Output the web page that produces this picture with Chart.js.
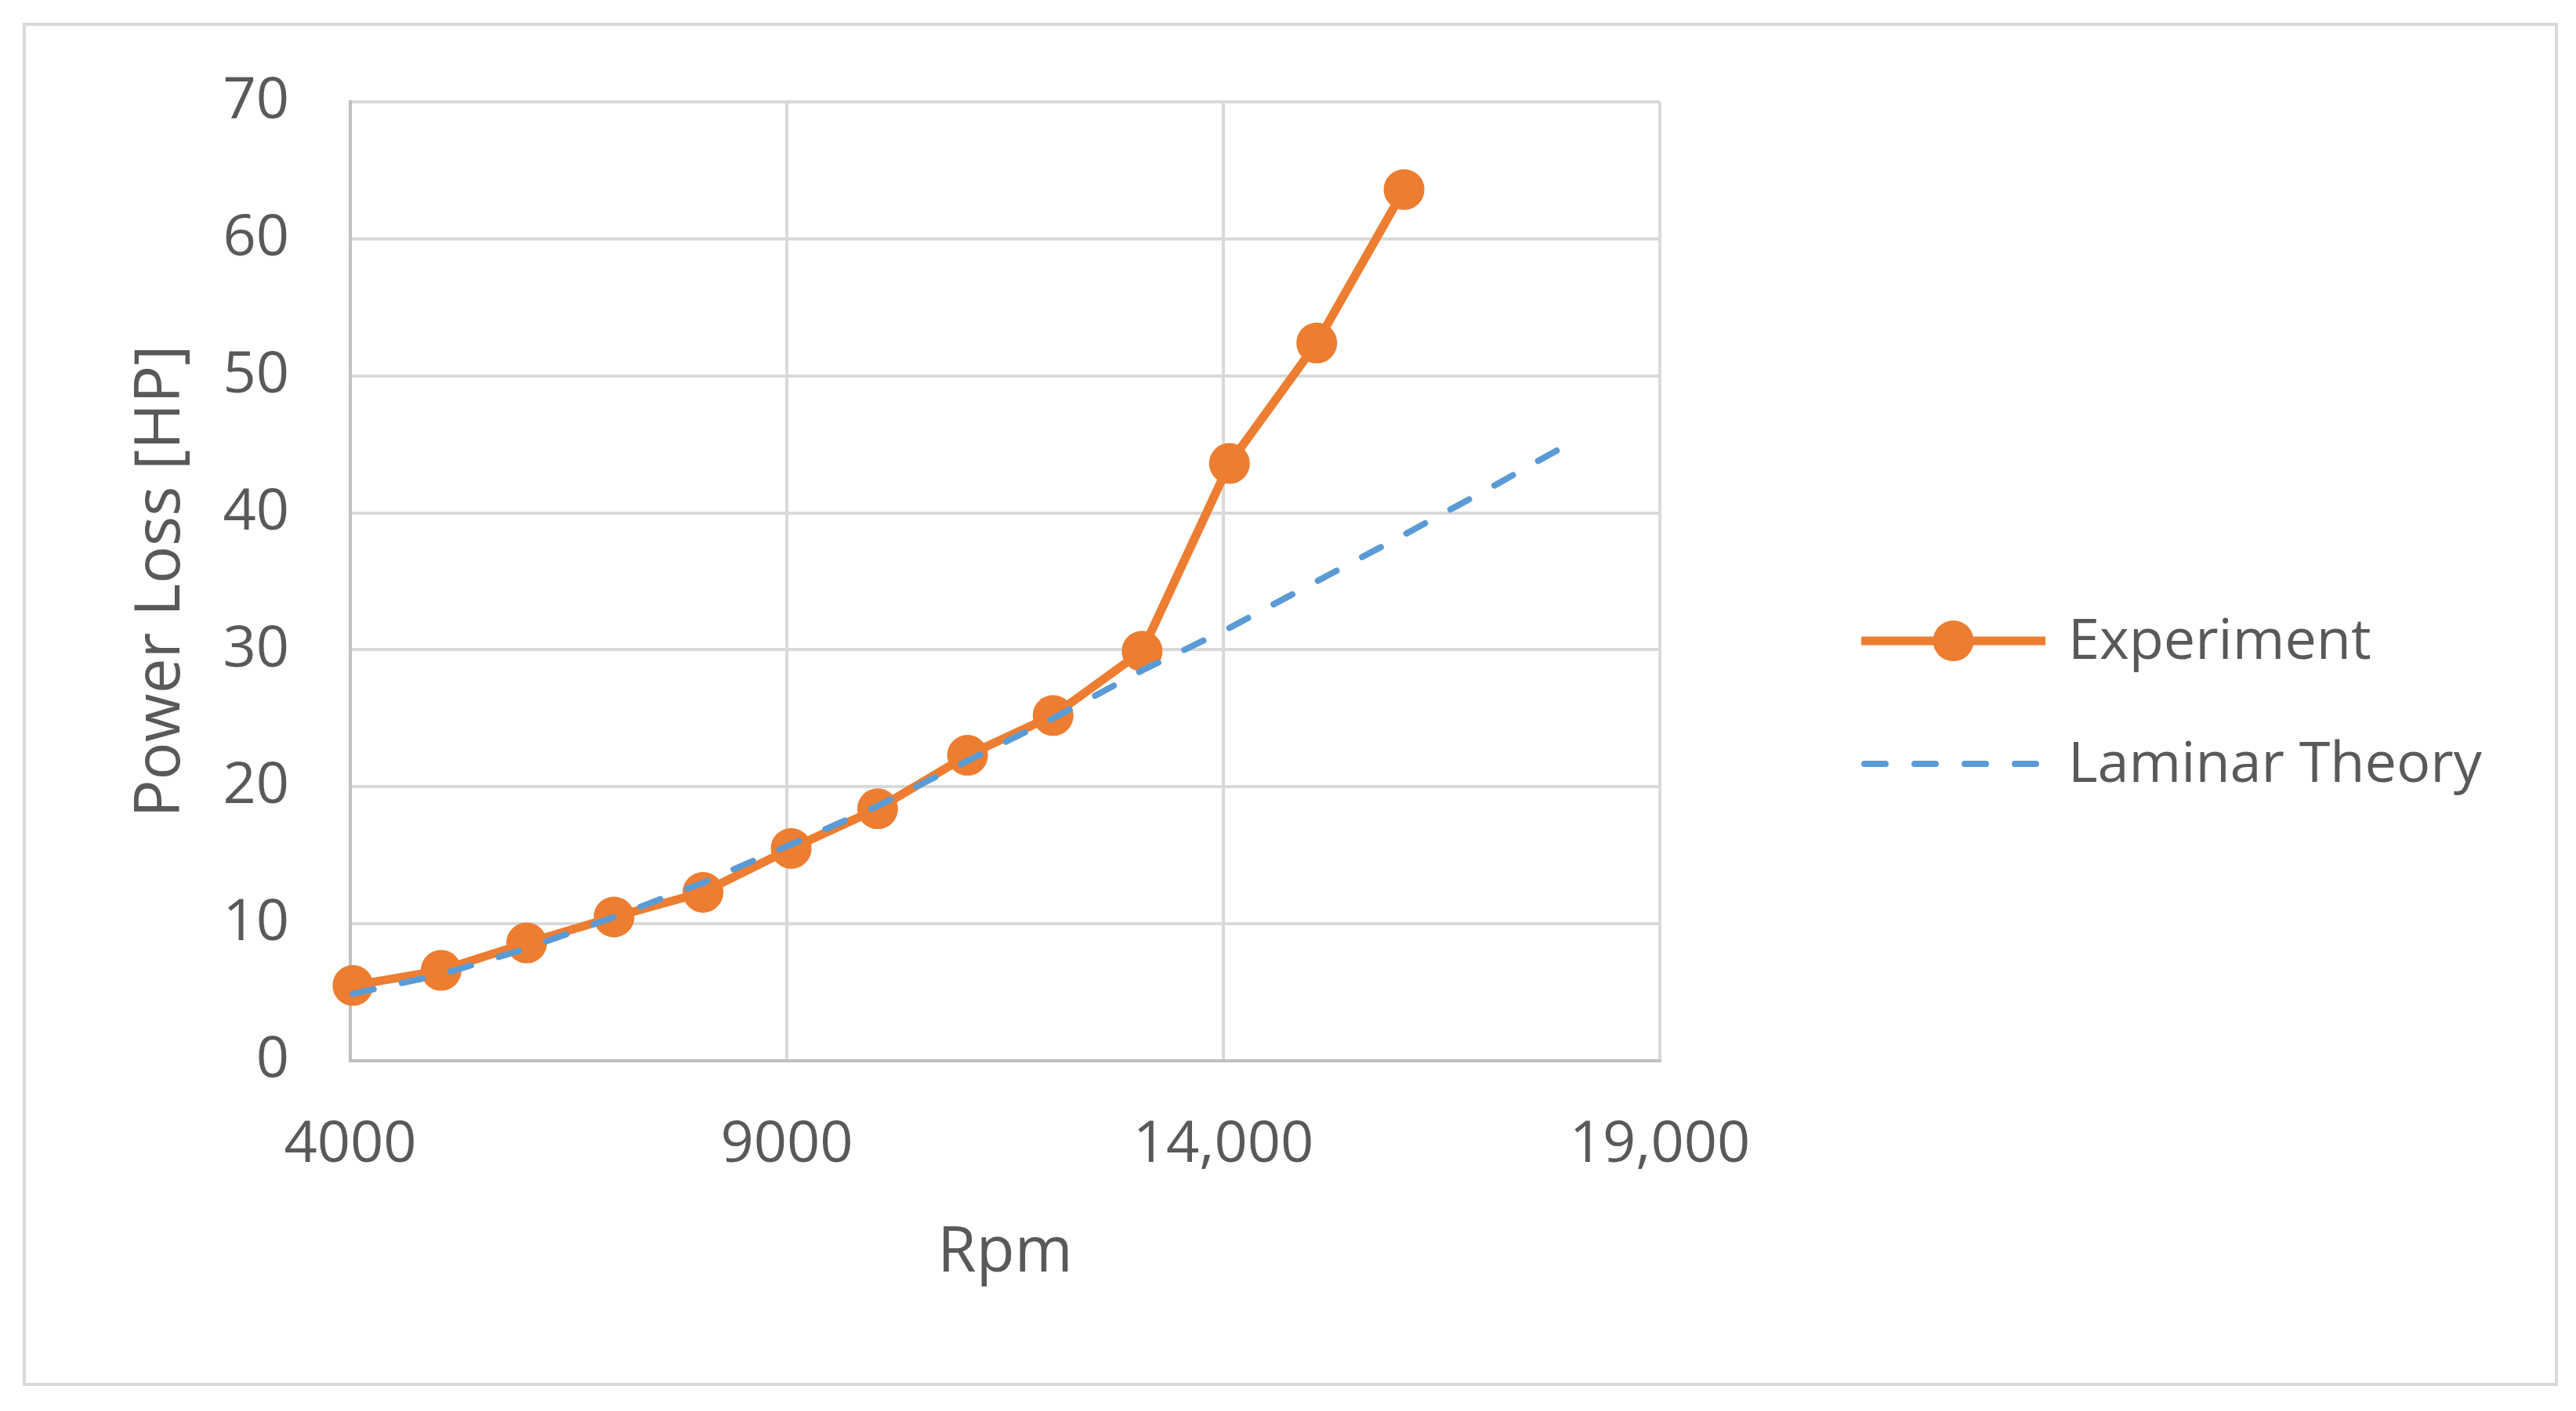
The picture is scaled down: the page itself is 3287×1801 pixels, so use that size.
<!DOCTYPE html>
<html><head><meta charset="utf-8">
<script src="https://cdn.jsdelivr.net/npm/chart.js@4.4.1/dist/chart.umd.min.js"></script>
<style>html,body{margin:0;padding:0;background:#fff;overflow:hidden}#wrap{position:absolute;left:0;top:0;width:3287px;height:1801px}</style>
</head><body><div id="wrap"><canvas id="c"></canvas></div>
<script>
// ---- data ----
const expRpm = [4030,5040,6020,7020,8040,9050,10040,11070,12050,13070,14070,15070,16070];
const expLoss = [5.5,6.6,8.6,10.5,12.3,15.5,18.4,22.3,25.2,29.9,43.6,52.4,63.6];
const lamRpm = [4030,5040,6020,7020,8040,9050,10040,11070,12050,13070,14070,15070,16070,17050,18030];
const lamLoss = [4.9,6.3,8.2,10.5,13.0,15.8,18.6,21.9,25.0,28.5,31.6,35.0,38.4,41.8,45.3];
const seriesNames = ['Experiment','Laminar Theory'];
const xTickValues = [4000,9000,14000,19000];
const xTickLabels = ['4000','9000','14,000','19,000'];
const yTickValues = [0,10,20,30,40,50,60,70];
const xTitle = 'Rpm';
const yTitle = 'Power Loss [HP]';

const ORANGE = '#ED7D31', BLUE = '#5B9BD5', TXT = '#595959', GRID = '#d9d9d9', AXIS = '#bfbfbf';
const FONT = "'Open Sans', sans-serif";
Chart.defaults.font.family = FONT;
Chart.defaults.color = TXT;

const bgPlugin = {
  id: 'bg',
  beforeDraw(chart) {
    const ctx = chart.ctx;
    ctx.save();
    ctx.fillStyle = '#fff';
    ctx.fillRect(0, 0, chart.width, chart.height);
    ctx.strokeStyle = GRID;
    ctx.lineWidth = 4;
    ctx.strokeRect(31, 31, 3231, 1736);
    ctx.restore();
  }
};

const legendPlugin = {
  id: 'customLegend',
  afterDraw(chart) {
    const ctx = chart.ctx;
    const ds = chart.data.datasets;
    const x0 = 2375, x1 = 2610, tx = 2639;
    const rows = [818, 975];
    ctx.save();
    ctx.font = '72px ' + FONT;
    ctx.textBaseline = 'middle';
    ctx.textAlign = 'left';
    ds.forEach((d, i) => {
      const y = rows[i];
      ctx.strokeStyle = d.borderColor;
      ctx.lineWidth = d.borderWidth;
      ctx.lineCap = d.borderCapStyle || 'butt';
      ctx.setLineDash(d.borderDash || []);
      ctx.beginPath();
      if (d.borderDash && d.borderDash.length) { ctx.moveTo(x0 + 4, y); ctx.lineTo(x1 - 4, y); }
      else { ctx.moveTo(x0, y); ctx.lineTo(x1, y); }
      ctx.stroke();
      ctx.setLineDash([]);
      if (d.pointRadius > 0) {
        ctx.fillStyle = d.pointBackgroundColor;
        ctx.beginPath();
        ctx.arc((x0 + x1) / 2, y, d.pointRadius + d.pointBorderWidth / 2, 0, Math.PI * 2);
        ctx.fill();
      }
      ctx.fillStyle = TXT;
      ctx.fillText(d.label, tx, y + 2);
    });
    ctx.restore();
  }
};

new Chart(document.getElementById('c'), {
  type: 'line',
  data: {
    datasets: [
      {
        label: seriesNames[0],
        data: expRpm.map((r, i) => ({ x: r, y: expLoss[i] })),
        borderColor: ORANGE, backgroundColor: ORANGE,
        borderWidth: 11, pointRadius: 24, pointBorderWidth: 4,
        pointBackgroundColor: ORANGE, pointBorderColor: ORANGE,
        tension: 0, clip: false, order: 2
      },
      {
        label: seriesNames[1],
        data: lamRpm.map((r, i) => ({ x: r, y: lamLoss[i] })),
        borderColor: BLUE, backgroundColor: BLUE,
        borderWidth: 8, borderDash: [27, 37], borderCapStyle: 'round',
        pointRadius: 0, pointBorderWidth: 0,
        tension: 0, clip: false, order: 1
      }
    ]
  },
  options: {
    responsive: true, maintainAspectRatio: false, devicePixelRatio: 1, animation: false,
    layout: { padding: { left: 0, right: 1169, top: 130, bottom: 0 } },
    plugins: { legend: { display: false }, tooltip: { enabled: false } },
    scales: {
      x: {
        type: 'linear', min: xTickValues[0], max: xTickValues[xTickValues.length - 1],
        afterBuildTicks: s => { s.ticks = xTickValues.map(v => ({ value: v })); },
        afterFit: s => { s.height = 447; },
        ticks: {
          font: { size: 74 }, color: TXT, padding: 64, maxRotation: 0,
          callback: (v) => { const i = xTickValues.indexOf(v); return i >= 0 ? xTickLabels[i] : ''; }
        },
        grid: { color: GRID, lineWidth: 4, drawTicks: false },
        border: { color: AXIS, width: 4 },
        title: { display: true, text: xTitle, font: { size: 80 }, color: TXT, padding: { top: 0, bottom: 153 } }
      },
      y: {
        type: 'linear', min: 0, max: 70,
        afterBuildTicks: s => { s.ticks = yTickValues.map(v => ({ value: v })); },
        afterFit: s => { s.width = 447; },
        ticks: { font: { size: 74 }, color: TXT, padding: 78 },
        grid: { color: GRID, lineWidth: 4, drawTicks: false },
        border: { color: AXIS, width: 4 },
        title: { display: true, text: yTitle, font: { size: 80 }, color: TXT, padding: { top: 158, bottom: 0 } }
      }
    }
  },
  plugins: [bgPlugin, legendPlugin]
});
</script>
</body></html>
